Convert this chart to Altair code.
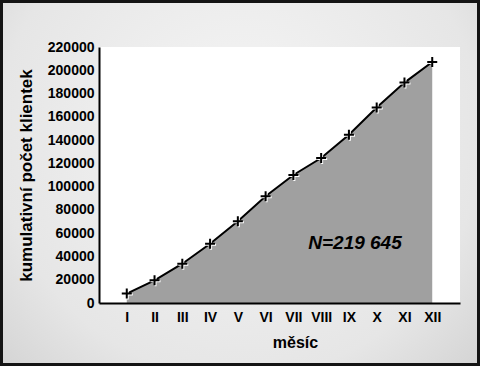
import altair as alt
import pandas as pd

months = ["I", "II", "III", "IV", "V", "VI", "VII", "VIII", "IX", "X", "XI", "XII"]
cumulative = [8060, 19450, 33770, 50900, 70270, 91700, 110040, 124600, 144580, 167970, 189400, 207140]
y_ticks = list(range(0, 220001, 20000))
annotation = "N=219 645"

df = pd.DataFrame({"mesic": months, "pocet": cumulative})

W, H = 361, 256
FONT = "Liberation Sans"

x_enc = alt.X("mesic:N", sort=months, scale=alt.Scale(type="point", padding=1),
              axis=alt.Axis(title="měsíc", labelAngle=0, ticks=False, labelPadding=7,
                            labelFontSize=14, labelFontWeight="bold", labelFont=FONT,
                            labelColor="black", domainColor="black", domainWidth=2,
                            labelOverlap=False,
                            titleFontSize=16, titleFontWeight="bold", titleFont=FONT,
                            titleColor="black", titleX=196, titleY=44,
                            titleBaseline="alphabetic", grid=False, zindex=1))
y_enc = alt.Y("pocet:Q", scale=alt.Scale(domain=[0, 220000], nice=False),
              axis=alt.Axis(title="kumulativní počet klientek", values=y_ticks,
                            format="d", ticks=False, labelPadding=5, labelOverlap=False,
                            labelFontSize=14, labelFontWeight="bold", labelFont=FONT,
                            labelColor="black", domainColor="black", domainWidth=2,
                            titleFontSize=17, titleFontWeight="bold", titleFont=FONT,
                            titleColor="black", titleX=-73, titleY=H / 2,
                            titleAngle=-90, titleAlign="center", titleBaseline="middle",
                            grid=False, zindex=1))

one = alt.Data(values=[{}])

bg = alt.Chart(one).mark_rect(
    fill=alt.Gradient(gradient="radial",
                      stops=[alt.GradientStop(color="#f6f6f6", offset=0),
                             alt.GradientStop(color="#e6e6e6", offset=0.6),
                             alt.GradientStop(color="#c6c6c6", offset=1)],
                      x1=0.5, y1=0.4, r1=0, x2=0.5, y2=0.4, r2=0.85)
).encode(x=alt.value(-96), x2=alt.value(W + 17), y=alt.value(-44), y2=alt.value(H + 60))

plotbg = alt.Chart(one).mark_rect(fill="white").encode(
    x=alt.value(0), x2=alt.value(W), y=alt.value(0), y2=alt.value(H))

area = alt.Chart(df).mark_area(color="#a0a0a0", opacity=1,
                               line={"color": "black", "strokeWidth": 2}).encode(x=x_enc, y=y_enc)

plus = "M-1,0H1M0,-1V1"
pts_white = alt.Chart(df).mark_point(shape=plus, size=100, strokeWidth=2, filled=False,
                                     color="white", opacity=1, xOffset=1, yOffset=1).encode(
    x=x_enc, y=y_enc)
pts_black = alt.Chart(df).mark_point(shape=plus, size=100, strokeWidth=2, filled=False,
                                     color="black", opacity=1).encode(x=x_enc, y=y_enc)

label = alt.Chart(one).mark_text(text=annotation, font=FONT, fontSize=19, fontWeight="bold",
                                 fontStyle="italic", color="black", align="center",
                                 baseline="middle").encode(x=alt.value(256), y=alt.value(196))

chart = alt.layer(bg, plotbg, area, pts_white, pts_black, label).properties(
    width=W, height=H, autosize="none",
    padding={"left": 99, "top": 47, "right": 20, "bottom": 63},
    background="#141414"
).configure_view(stroke=None)

chart.save("out.html", embed_options={"renderer": "svg", "actions": False})
